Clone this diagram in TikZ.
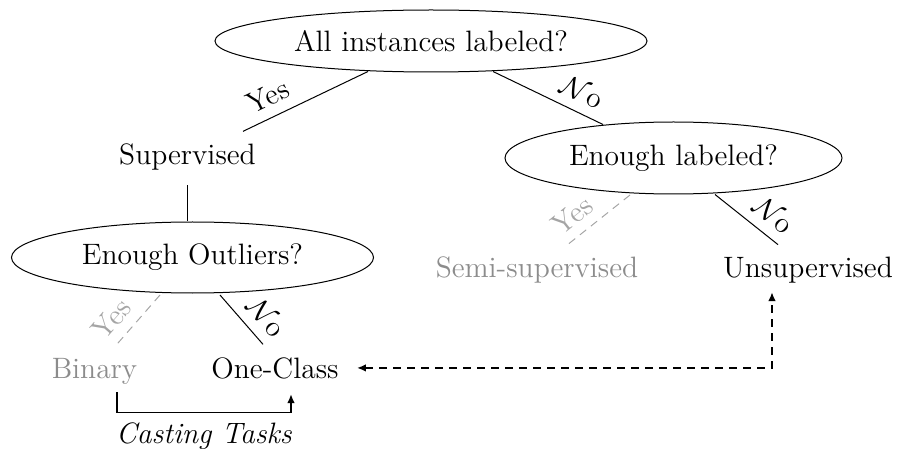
\documentclass[tikz,border=0pt]{standalone}
\usetikzlibrary{shapes.geometric,arrows.meta,calc}
\definecolor{muted}{RGB}{140,140,140}
\definecolor{mutedline}{RGB}{165,165,165}
\begin{document}
\begin{tikzpicture}[x=0.5pt,y=-0.5pt,
  >={Latex[length=4.5pt,width=3.8pt]},
  every node/.style={font=\fontsize{14.75}{17}\selectfont, inner sep=0pt},
  question/.style={ellipse, draw, line width=0.5pt},
  edge/.style={line width=0.5pt},
  optional/.style={line width=0.5pt, mutedline, dash pattern=on 4pt off 3pt},
  answer/.style={sloped, above, pos=0.73, inner sep=5pt},
  link/.style={line width=0.9pt},
]
\useasboundingbox (0,0) rectangle (899,454);

% decision questions
\node[question, minimum width=216pt, minimum height=31pt] (q1) at (431,41) {All instances labeled?};
\node[question, minimum width=168.5pt, minimum height=36pt] (q2) at (673.5,158) {Enough labeled?};
\node[question, minimum width=181pt, minimum height=35.5pt] (q3) at (192.5,257.5) {Enough Outliers?};

% outcomes
\node[anchor=base] (sup) at (187.5,165) {Supervised};
\node[anchor=base, text=muted] (semi) at (537,278) {Semi-supervised};
\node[anchor=base] (unsup) at (808,278) {Unsupervised};
\node[anchor=base, text=muted] (bin) at (94.5,378) {Binary};
\node[anchor=base] (one) at (275,378) {One-Class};
\node[anchor=base, font=\fontsize{14.75}{17}\selectfont\itshape] (cast) at (204,443) {Casting Tasks};

% branches
\draw[edge] ($(q1.south)+(-63,-1)$) -- node[answer] {Yes} ($(sup.north)+(55.5,-12.5)$);
\draw[edge] ($(q1.south)+(62,-1)$) -- node[answer] {$\mathcal{N}$o} ($(q2.north)+(-70.5,3)$);
\draw[optional] ($(q2.south)+(-43.5,0.5)$) -- node[answer] {Yes} ($(semi.north)+(31,-12.5)$);
\draw[edge] ($(q2.south)+(41.5,0)$) -- node[answer] {$\mathcal{N}$o} ($(unsup.north)+(-30,-12.5)$);
\draw[edge] ($(sup.south)+(0,14)$) -- (sup.south |- q3.north);
\draw[optional] ($(q3.south)+(-32.5,1.5)$) -- node[answer] {Yes} ($(bin.north)+(20.5,-11)$);
\draw[edge] ($(q3.south)+(27.5,1.5)$) -- node[answer] {$\mathcal{N}$o} ($(one.north)+(-12,-12.5)$);

% task conversions
\draw[link, ->] ($(bin.south)+(22.5,8)$) -- ++(0,20) -| ($(one.south)+(16,15)$);
\draw[link, dash pattern=on 4pt off 3pt, <->] ($(one.east)+(18,0)$) -| ($(unsup.south)+(-36,8)$);
\end{tikzpicture}
\end{document}
